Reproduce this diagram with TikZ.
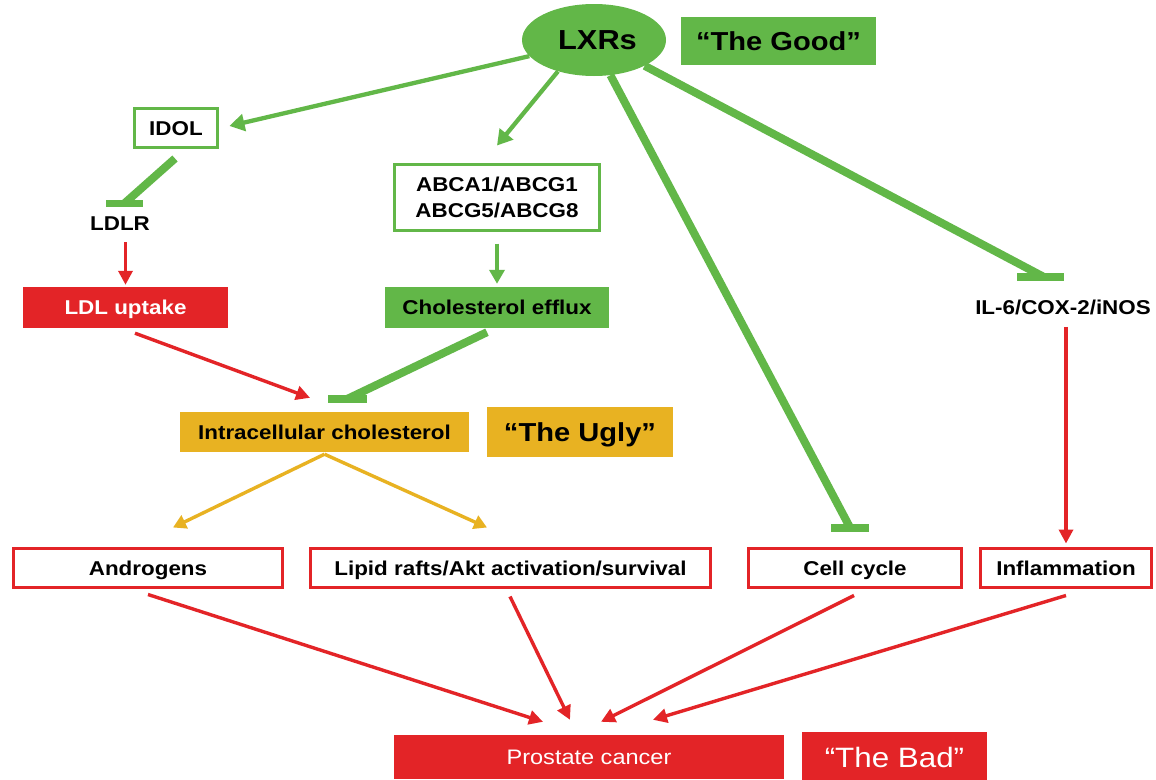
\documentclass[tikz,border=0pt]{standalone}
\usepackage{fontspec}
\setmainfont{Liberation Sans}[FakeStretch=1.12]
\usetikzlibrary{arrows.meta,shapes.geometric}
\definecolor{gg}{RGB}{98,183,72}
\definecolor{rr}{RGB}{227,36,39}
\definecolor{yy}{RGB}{232,178,34}
\tikzset{
  lbl/.style={font=\fontsize{20}{26}\selectfont\bfseries, text height=14.4pt, text depth=0pt, inner sep=0pt},
  obox/.style={draw=#1, line width=3pt, fill=white, lbl},
  fbox/.style={fill=#1, lbl},
  garrow/.style={gg, line width=4.3pt, -{Triangle[width=17pt,length=15pt]}},
  gline/.style={gg, line width=4pt, -{Triangle[width=15pt,length=14pt]}},
  rarrow/.style={rr, line width=3.4pt, -{Triangle[width=14pt,length=14pt]}},
  yarrow/.style={yy, line width=3.4pt, -{Triangle[width=14pt,length=13pt]}},
  ginh/.style={gg, line width=8pt},
  gbar/.style={gg, line width=8pt, line cap=butt}
}
\begin{document}
\begin{tikzpicture}[x=1pt,y=-1pt]
\path[fill=white] (0,0) rectangle (1156,779);
\useasboundingbox (0,0) rectangle (1156,779);

% nodes
\node[ellipse, fill=gg, minimum width=144pt, minimum height=72pt, inner sep=0pt,
      font=\fontsize{27.5}{32}\selectfont\bfseries] (lxr) at (594,40) {\hspace{7pt}LXRs};
\node[fbox=gg, minimum width=195pt, minimum height=48pt,
      font=\fontsize{26}{30}\selectfont\bfseries, text height=18.6pt] (good) at (778.5,41) {“The Good”};

\node[obox=gg, minimum width=83pt, minimum height=39pt] (idol) at (176,128) {IDOL};
\node[lbl] (ldlr) at (120,223) {LDLR};
\node[fbox=rr, text=white, minimum width=205pt, minimum height=41pt] (ldl) at (125.5,307.5) {LDL uptake};

\node[draw=gg, line width=3pt, fill=white, inner sep=0pt, align=center,
      font=\fontsize{20}{26}\selectfont\bfseries, minimum width=205pt, minimum height=66pt]
      (abca) at (497,197.5) {ABCA1/ABCG1\\ABCG5/ABCG8};
\node[fbox=gg, minimum width=224pt, minimum height=41pt] (efflux) at (497,307.5) {Cholesterol efflux};

\node[fbox=yy, minimum width=289pt, minimum height=40pt] (intra) at (324.5,432) {Intracellular cholesterol};
\node[fbox=yy, minimum width=186pt, minimum height=50pt,
      font=\fontsize{26}{30}\selectfont\bfseries, text height=18.6pt] (ugly) at (580,432) {“The Ugly”};

\node[lbl] (il6) at (1063,307.5) {IL-6/COX-2/iNOS};

\node[obox=rr, minimum width=269pt, minimum height=39pt] (andr) at (148,568) {Androgens};
\node[obox=rr, minimum width=400pt, minimum height=39pt] (lipid) at (510.5,568) {Lipid rafts/Akt activation/survival};
\node[obox=rr, minimum width=213pt, minimum height=39pt] (cell) at (855,568) {Cell cycle};
\node[obox=rr, minimum width=171pt, minimum height=39pt] (infl) at (1066,568) {Inflammation};

\node[fill=rr, text=white, inner sep=0pt, minimum width=390pt, minimum height=44pt,
      font=\fontsize{21}{25}\selectfont, text height=15pt, text depth=0pt] (pc) at (589,757) {Prostate cancer};
\node[fill=rr, text=white, inner sep=0pt, minimum width=185pt, minimum height=50pt,
      font=\fontsize{28}{32}\selectfont, text height=20pt, text depth=0pt] (bad) at (894.5,757) {“The Bad”};

% inhibition bar positions
\coordinate (cbar) at ([xshift=-5pt,yshift=19.5pt]cell.north);
\coordinate (ibar) at ([xshift=-22.5pt,yshift=22.8pt]il6.north);
\coordinate (lbar) at ([xshift=4.5pt,yshift=12.3pt]ldlr.north);
\coordinate (ebar) at ([xshift=23pt,yshift=13pt]intra.north);

% LXR connectors
\draw[garrow] (lxr.194) -- ([xshift=10.5pt,yshift=2pt]idol.east);
\draw[garrow] (lxr.221) -- ([yshift=17.5pt]abca.north);
\draw[ginh] (lxr.-65) -- (cbar);
\draw[gbar] ([xshift=-19pt]cbar) -- ([xshift=19pt]cbar);
\draw[ginh] (lxr.-27) -- ([xshift=4pt]ibar);
\draw[gbar] ([xshift=-23.5pt]ibar) -- ([xshift=23.5pt]ibar);

% IDOL -| LDLR
\draw[ginh] ([xshift=-1pt,yshift=-9.5pt]idol.south) -- (lbar);
\draw[gbar, line width=7pt] ([xshift=-18.5pt]lbar) -- ([xshift=18.5pt]lbar);

% LDLR -> LDL uptake
\draw[rarrow] ([xshift=5.5pt,yshift=-12pt]ldlr.south) -- ([yshift=2pt]ldl.north);
% ABCA -> efflux
\draw[gline] ([yshift=-11.5pt]abca.south) -- ([yshift=3pt]efflux.north);

% into intracellular cholesterol
\draw[rarrow] ([xshift=9.5pt,yshift=-5pt]ldl.south) -- ([xshift=-14.5pt,yshift=14pt]intra.north);
\draw[ginh] ([xshift=-10pt,yshift=-4pt]efflux.south) -- (ebar);
\draw[gbar] ([xshift=-19.5pt]ebar) -- ([xshift=19.5pt]ebar);

% out of intracellular cholesterol
\draw[yarrow] ([yshift=-2pt]intra.south) -- ([xshift=25pt,yshift=19.5pt]andr.north);
\draw[yarrow] ([yshift=-2pt]intra.south) -- ([xshift=-23.5pt,yshift=19.5pt]lipid.north);

% IL-6 -> inflammation
\draw[rarrow] ([xshift=3pt,yshift=-12pt]il6.south) -- ([yshift=3.5pt]infl.north);

% to prostate cancer
\draw[rarrow] ([yshift=-5.5pt]andr.south) -- ([xshift=-46pt,yshift=13pt]pc.north);
\draw[rarrow] ([xshift=-0.5pt,yshift=-7.5pt]lipid.south) -- ([xshift=-19pt,yshift=15pt]pc.north);
\draw[rarrow] ([xshift=-1pt,yshift=-6.5pt]cell.south) -- ([xshift=12pt,yshift=13pt]pc.north);
\draw[rarrow] ([yshift=-6.5pt]infl.south) -- ([xshift=64pt,yshift=15pt]pc.north);
\end{tikzpicture}
\end{document}
